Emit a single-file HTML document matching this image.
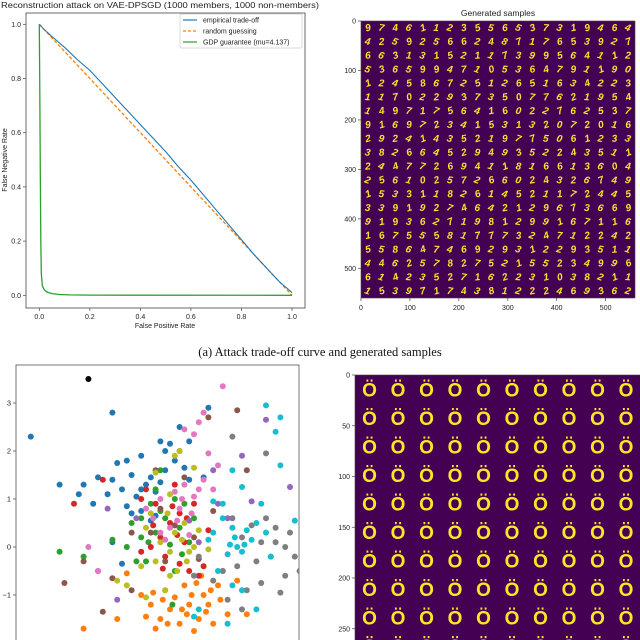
<!DOCTYPE html>
<html><head><meta charset="utf-8">
<style>
html,body{margin:0;padding:0;background:#fff;}
body{width:640px;height:640px;overflow:hidden;position:relative;font-family:"Liberation Sans",sans-serif;}
svg{position:absolute;left:0;top:0;}
</style></head>
<body>
<svg id="fig" width="640" height="640" viewBox="0 0 640 640">
  <g id="roc">
    <text x="160" y="8" text-anchor="middle" font-size="8.6" fill="#222" textLength="318" lengthAdjust="spacingAndGlyphs">Reconstruction attack on VAE-DPSGD (1000 members, 1000 non-members)</text>
    <rect x="26" y="13" width="279" height="295" fill="#fff" stroke="#444" stroke-width="0.8"/>
    <g id="rocMarks"></g>
    <g id="rocTicks"></g>
    <text x="165" y="328" text-anchor="middle" font-size="7" fill="#222">False Positive Rate</text>
    <text transform="translate(7,160) rotate(-90)" text-anchor="middle" font-size="7" fill="#222">False Negative Rate</text>
    <g>
      <rect x="180" y="14" width="122" height="34" fill="#fff" stroke="#ccc" stroke-width="0.7" rx="1.5"/>
      <line x1="183" y1="20" x2="197" y2="20" stroke="#1f77b4" stroke-width="1.2"/>
      <text x="203" y="22.5" font-size="7" fill="#222">empirical trade-off</text>
      <line x1="183" y1="31" x2="197" y2="31" stroke="#ff7f0e" stroke-width="1.2" stroke-dasharray="3,2"/>
      <text x="203" y="33.5" font-size="7" fill="#222">random guessing</text>
      <line x1="183" y1="42" x2="197" y2="42" stroke="#2ca02c" stroke-width="1.2"/>
      <text x="203" y="44.5" font-size="7" fill="#222">GDP guarantee (mu=4.137)</text>
    </g>
  </g>
  <g>
    <text x="498" y="16" text-anchor="middle" font-size="8.5" fill="#222">Generated samples</text>
    <rect x="361" y="21" width="274" height="277" fill="#440154" stroke="#444" stroke-width="0.6"/>
    <g id="digitsTop"></g>
    <g id="topImgTicks"></g>
  </g>
  <text x="320" y="356" text-anchor="middle" font-family="Liberation Serif,serif" font-size="12.5" fill="#111">(a) Attack trade-off curve and generated samples</text>
  <g>
    <defs><clipPath id="scClip"><rect x="16" y="365" width="283" height="275"/></clipPath></defs>
    <rect x="16" y="365" width="283" height="280" fill="#fff" stroke="#555" stroke-width="0.8"/>
    <g id="scatterMarks" clip-path="url(#scClip)"></g>
    <g id="scTicks"></g>
  </g>
  <g>
    <rect x="355" y="375" width="290" height="270" fill="#440154" stroke="#444" stroke-width="0.6"/>
    <g id="digitsBottom"></g>
    <g id="botImgTicks"></g>
  </g>
</svg>
<script>
const NS='http://www.w3.org/2000/svg';
const empFpr=[0,0.02,0.05,0.1,0.15,0.2,0.25,0.3,0.35,0.4,0.45,0.5,0.55,0.6,0.65,0.7,0.75,0.8,0.85,0.9,0.95,1.0];
const empFnr=[1,0.98,0.955,0.915,0.87,0.83,0.78,0.73,0.68,0.63,0.58,0.53,0.475,0.425,0.37,0.315,0.26,0.205,0.15,0.1,0.05,0.01];
const randFpr=[0,1];
const randFnr=[1,0];
const gdpFpr=[0,0.002,0.004,0.006,0.008,0.012,0.02,0.03,0.05,0.08,0.12,0.2,1];
const gdpFnr=[1,0.75,0.45,0.2,0.08,0.035,0.02,0.012,0.006,0.003,0.0015,0.0005,0];
const rocTickVals=[0,0.2,0.4,0.6,0.8,1.0];
const rocTickLabels=['0.0','0.2','0.4','0.6','0.8','1.0'];
const blueP=[[-2.9,2.3],[-1.2,2.8],[0.8,2.9],[0.2,2.5],[0.4,2.2],[-0.2,2.2],[0,2.15],[-0.6,1.9],[-0.9,1.8],[-1.1,1.75],[-2.3,1.3],[-1.8,1.3],[-1.5,1.45],[-1.2,1.4],[-0.8,1.5],[-0.4,1.45],[-0.1,1.6],[0.3,1.65],[-1,1.2],[-0.6,1.2],[-0.3,1.15],[-1.9,1.1],[-1.6,0.9],[-0.9,0.85],[-0.6,0.75],[-0.4,0.55],[-1.2,0.1],[-1,-0.35],[0.7,1.45],[0.1,1.8],[-0.7,1.05],[-0.5,1.3],[-0.2,1.35],[-1.3,1.1],[-0.8,0.7],[-0.3,0.65],[0.4,1.4],[-0.1,2.0]];
const orangeP=[[-0.9,-0.55],[-0.6,-1],[-0.4,-1.2],[-0.2,-1.5],[0,-1.3],[0.2,-1.6],[0.4,-1.2],[0.6,-1.5],[0.8,-1.2],[1,-0.8],[1.2,-1.4],[1.4,-0.7],[-0.1,-0.9],[0.3,-0.8],[0.5,-1.75],[-0.3,-1.7],[0.9,-1.6],[0.7,-1.0],[1.6,-1.4],[0.1,-1.05],[-0.5,-1.45],[1.1,-0.5],[0.35,-1.4],[-0.15,-1.1],[-1.8,-1.7],[-1.1,-1.5],[0.65,-0.6],[0.85,-0.9],[0.45,-1.0],[-0.05,-1.6],[0.25,-1.3],[1.05,-1.1],[0.75,-1.35],[-0.35,-0.95],[0.55,-0.75]];
const greenP=[[-2.3,-0.1],[-1.8,-0.2],[-1.2,0.15],[-0.8,0.5],[-0.6,0.2],[-0.4,0.9],[-0.3,0.3],[-0.2,1.6],[-0.1,0.6],[0,0.05],[0.2,0.4],[-0.5,-0.3],[0.3,0.9],[0.1,-0.5],[-0.7,-0.3],[0.4,0.1],[-0.3,1.2],[0.05,-1.2],[-0.9,0.0],[0.5,0.6],[-0.6,0.6],[-0.2,0.75],[0.1,1.0],[-0.45,0.1],[0.25,-0.15]];
const redP=[[-2.0,0.9],[-1.4,1.4],[-0.5,1.2],[-0.3,0.9],[-0.2,0.2],[0,0.5],[0.1,1.3],[0.2,0.7],[0.3,0.1],[-0.6,-0.1],[0.4,-0.5],[0.6,-0.6],[0.8,0.35],[-0.1,-0.2],[0.2,-0.35],[0.5,0.9],[-0.4,0.0],[0.7,-0.4],[-0.6,1.0],[-0.35,0.45],[0.05,0.85],[0.15,0.25],[-0.15,-0.45],[0.35,0.6]];
const purpleP=[[2.0,2.65],[2.5,1.25],[1.5,1.9],[2.8,0.65],[1.7,0.95],[-1.3,0.8],[-1.5,-0.5],[-1.1,-1.1],[0.9,1.6],[1.2,0.6],[0.4,0.55],[-0.7,0.6],[1.0,0.9],[0.6,0.1]];
const brownP=[[1.4,2.85],[-2.2,-0.75],[-1.8,-0.3],[-1.2,-0.65],[-0.8,-0.9],[0.2,2.0],[0.8,2.7],[1.6,1.6],[-0.3,1.6],[0.1,0.45],[-0.4,0.3],[-0.8,0.3],[0.5,0.2],[0.9,0.75],[-1.4,-1.35],[-0.1,-0.3],[0.3,1.45],[-0.2,0.8],[0.6,-0.25]];
const pinkP=[[1.1,3.35],[0.7,2.8],[0.6,2.6],[0.5,2.35],[0.3,2.45],[0.8,1.95],[1.0,1.7],[0.3,1.3],[0.5,1.05],[0.1,1.15],[-0.2,1.0],[0.0,0.4],[-0.5,0.8],[-1.7,0.0],[-1.5,-0.5],[0.7,1.4],[0.4,0.25],[-0.2,0.3],[0.2,0.8],[0.9,1.2],[0.15,0.55],[-0.1,0.15],[0.45,0.7],[0.6,1.2],[-0.35,0.6],[0.25,1.0]];
const grayP=[[1.3,2.3],[2.0,1.95],[1.3,0.6],[1.5,0.2],[1.8,-0.3],[2.2,0.1],[2.5,0.3],[2.8,0.4],[3.1,0.3],[3.2,-0.05],[3.0,-0.1],[2.7,-0.5],[2.4,-0.6],[1.9,-0.75],[1.1,-0.5],[1.6,-0.9],[1.2,-1.1],[2.3,-0.95],[1.5,-1.3],[0.9,-0.7],[2.0,0.6],[1.7,0.45],[0.6,-0.2],[2.1,-0.2],[2.4,0.0],[2.6,-0.2],[1.9,0.1],[2.2,0.4],[1.4,-0.4],[0.5,-0.6]];
const oliveP=[[0.2,2.0],[0.1,1.9],[-0.3,1.55],[0.5,1.65],[0,1.1],[-0.4,0.7],[-0.2,0.1],[0.0,-0.1],[0.3,0.5],[0.4,-0.1],[0.15,-0.5],[-0.6,-0.4],[-0.9,-0.8],[-0.5,-1.05],[-1.1,-0.7],[0.5,0.0],[0.25,0.15],[-0.1,-0.9],[0.8,-0.05],[-0.3,-0.3],[0.1,0.3],[0.35,-0.3],[-0.05,0.7],[0.6,0.35],[-0.5,0.4],[0.0,-0.6]];
const cyanP=[[2.0,2.95],[2.3,2.7],[2.2,2.4],[2.3,1.7],[1.3,1.6],[1.5,1.25],[1.9,0.9],[3.5,0.65],[2.6,0.55],[1.1,0.6],[1.3,0.4],[1.6,0.35],[1.8,0.5],[1.4,0.0],[1.5,-0.1],[1.2,-0.15],[0.8,0.15],[1.0,-0.5],[1.3,-0.8],[1.5,-0.9],[1.8,-1.3],[1.2,-1.6],[0.6,-1.3],[0.5,-1.45],[2.1,-0.2],[0.9,0.3],[1.7,0.15],[1.35,0.2],[1.55,0.05],[1.25,0.05],[2.0,0.3],[1.1,0.9],[0.9,0.95]];
const blackP=[[-1.7,3.5]];
const scYTicks=[3,2,1,0,-1];
const scYLabels=['3','2','1','0','\u22121'];
const topDigitRows=['97461123556537319464','42592566248717653927','66313152117399564112','53659947105364791190','12458672512651634223','11702293735077621954','14971756416022762537','91697234153132072016','29241435219775061233','38266452949352243511','24477269411816613604','25610257266024326749','15331182614521172445','33919274642129673669','91936271981299167116','16755581777324712242','55864746929312293511','44625782752155234996','61423527162231038211','15397174381222469362'];
const topImgTicks=[0,100,200,300,400,500];
const botImgTicks=[0,50,100,150,200,250];
const botCols=10, botRows=10;

function el(tag,attrs,parent){const e=document.createElementNS(NS,tag);for(const k in attrs)e.setAttribute(k,attrs[k]);parent.appendChild(e);return e;}

const rx=v=>39.3+v*(292-39.3);
const ry=v=>295.3-v*(295.3-24.3);
const rocMarks=document.getElementById('rocMarks');
function poly(xs,ys,attrs,name){
  const pts=xs.map((x,i)=>rx(x).toFixed(2)+','+ry(ys[i]).toFixed(2)).join(' ');
  const p=el('polyline',Object.assign({points:pts,fill:'none'},attrs),rocMarks);
  
  
}
poly(randFpr,randFnr,{stroke:'#ff7f0e','stroke-width':1.3,'stroke-dasharray':'3.5,2'},'random-guessing-line');
poly(empFpr,empFnr,{stroke:'#1f77b4','stroke-width':1.1},'empirical-tradeoff-line');
poly(gdpFpr,gdpFnr,{stroke:'#2ca02c','stroke-width':1.3},'gdp-guarantee-line');
const rocTicks=document.getElementById('rocTicks');
rocTickVals.forEach((v,i)=>{
  el('line',{x1:rx(v),y1:308,x2:rx(v),y2:311,stroke:'#444','stroke-width':0.7},rocTicks);
  const t=el('text',{x:rx(v),y:319,'text-anchor':'middle','font-size':7,fill:'#222'},rocTicks);
  t.textContent=rocTickLabels[i];
  
  
  el('line',{x1:23,y1:ry(v),x2:26,y2:ry(v),stroke:'#444','stroke-width':0.7},rocTicks);
  const t2=el('text',{x:21,y:ry(v)+2.5,'text-anchor':'end','font-size':7,fill:'#222'},rocTicks);
  t2.textContent=rocTickLabels[i];
  
  
});

const sx=v=>170+v*48;
const sy=v=>547-v*48;
const scatterMarks=document.getElementById('scatterMarks');
const classes=[[blueP,'#1f77b4'],[orangeP,'#ff7f0e'],[greenP,'#2ca02c'],[redP,'#d62728'],[purpleP,'#9467bd'],[brownP,'#8c564b'],[grayP,'#7f7f7f'],[cyanP,'#17becf'],[pinkP,'#e377c2'],[oliveP,'#bcbd22'],[blackP,'#000000']];
classes.forEach(([pts,col])=>{
  pts.forEach(p=>{
    const c=el('circle',{cx:sx(p[0]),cy:sy(p[1]),r:3,fill:col},scatterMarks);
    
    
  });
});
const scTicks=document.getElementById('scTicks');
scYTicks.forEach((v,i)=>{
  el('line',{x1:13,y1:sy(v),x2:16,y2:sy(v),stroke:'#444','stroke-width':0.7},scTicks);
  const t=el('text',{x:11,y:sy(v)+2.5,'text-anchor':'end','font-size':7.5,fill:'#222'},scTicks);
  t.textContent=scYLabels[i];
  
  
});

const dTop=document.getElementById('digitsTop');
const rots=[-15,10,-5,20,-20,5,15,-10];
topDigitRows.forEach((row,r)=>{
  for(let c=0;c<20;c++){
    const ch=row[c];
    const cx=361+13.7*c+6.8, cy=21+13.85*r+10;
    const t=el('text',{x:cx,y:cy,'text-anchor':'middle','font-size':10,'font-weight':'bold','font-style':'italic',fill:'#f5e32a',transform:'rotate('+rots[(r+c)%8]+' '+cx+' '+(cy-4)+')'},dTop);
    t.textContent=ch;
  }
});
const tt=document.getElementById('topImgTicks');
const ix=v=>361+v*(274/560), iy=v=>21+v*(277/560);
topImgTicks.forEach(v=>{
  el('line',{x1:ix(v),y1:298,x2:ix(v),y2:301,stroke:'#444','stroke-width':0.7},tt);
  let t=el('text',{x:ix(v),y:310,'text-anchor':'middle','font-size':7,fill:'#222'},tt);t.textContent=v;
  el('line',{x1:358,y1:iy(v),x2:361,y2:iy(v),stroke:'#444','stroke-width':0.7},tt);
  t=el('text',{x:356,y:iy(v)+2.5,'text-anchor':'end','font-size':7,fill:'#222'},tt);t.textContent=v;
});

const dBot=document.getElementById('digitsBottom');
for(let r=0;r<botRows;r++)for(let c=0;c<botCols;c++){
  const t=el('text',{x:355+28.5*c+14.5,y:375+28.5*r+21.5,'text-anchor':'middle','font-size':19,'font-weight':'bold',fill:'#fde725'},dBot);
  t.textContent='Ö';
}
const bt=document.getElementById('botImgTicks');
botImgTicks.forEach(v=>{
  const y=375+v*1.015;
  el('line',{x1:352,y1:y,x2:355,y2:y,stroke:'#444','stroke-width':0.7},bt);
  const t=el('text',{x:350,y:y+2.5,'text-anchor':'end','font-size':7,fill:'#222'},bt);t.textContent=v;
});
</script>
</body></html>
